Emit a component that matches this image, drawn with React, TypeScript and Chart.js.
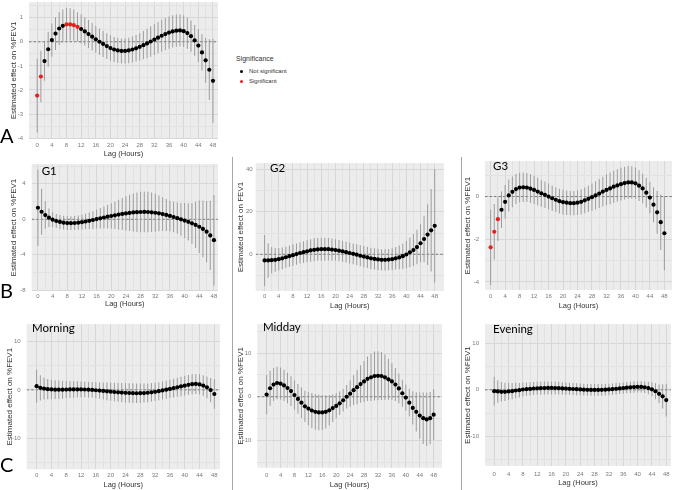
import React, { useEffect, useRef } from "react";
import { Chart, registerables } from "chart.js";

Chart.register(...registerables);
Chart.defaults.font.family = "'Liberation Sans', Arial, sans-serif";

// ---------- data ----------
const lags = [0,1,2,3,4,5,6,7,8,9,10,11,12,13,14,15,16,17,18,19,20,21,22,23,24,25,26,27,28,29,30,31,32,33,34,35,36,37,38,39,40,41,42,43,44,45,46,47,48];
const xMajorTicks = [0,4,8,12,16,20,24,28,32,36,40,44,48];
const xMinorTicks = [2,6,10,14,18,22,26,30,34,38,42,46];

// Panel A (all)
const estA = [-2.23,-1.44,-0.80,-0.31,0.07,0.34,0.55,0.66,0.72,0.72,0.69,0.62,0.53,0.43,0.32,0.21,0.10,0.00,-0.09,-0.18,-0.26,-0.32,-0.36,-0.38,-0.38,-0.36,-0.32,-0.27,-0.21,-0.14,-0.07,0.01,0.09,0.17,0.25,0.32,0.38,0.43,0.46,0.47,0.44,0.36,0.23,0.06,-0.16,-0.44,-0.77,-1.16,-1.62];
const ciA = [1.53,1.07,0.82,0.73,0.69,0.68,0.68,0.68,0.68,0.67,0.65,0.60,0.60,0.59,0.58,0.57,0.56,0.55,0.54,0.53,0.53,0.52,0.52,0.52,0.52,0.53,0.54,0.55,0.57,0.59,0.61,0.63,0.64,0.65,0.66,0.67,0.67,0.67,0.67,0.67,0.66,0.65,0.64,0.64,0.68,0.75,0.93,1.26,1.74];
const sigA = [0,1,8,9,10,11];

// G1
const estG1 = [1.30,0.85,0.48,0.18,-0.04,-0.19,-0.30,-0.38,-0.43,-0.44,-0.42,-0.38,-0.32,-0.25,-0.17,-0.08,0.02,0.11,0.20,0.29,0.37,0.45,0.53,0.60,0.66,0.72,0.77,0.80,0.82,0.83,0.82,0.79,0.74,0.67,0.59,0.49,0.38,0.26,0.13,0.00,-0.14,-0.29,-0.45,-0.63,-0.84,-1.08,-1.40,-1.82,-2.35];
const ciG1 = [4.3,2.6,1.55,1.05,0.85,0.8,0.78,0.78,0.78,0.78,0.78,0.8,0.83,0.88,0.93,1.0,1.07,1.15,1.24,1.33,1.43,1.55,1.67,1.8,1.93,2.05,2.15,2.23,2.28,2.3,2.28,2.22,2.13,2.02,1.9,1.8,1.72,1.72,1.76,1.85,1.97,2.1,2.3,2.6,2.95,3.2,3.45,3.9,5.1];

// G2
const estG2 = [-2.9,-2.9,-2.8,-2.6,-2.3,-1.9,-1.4,-0.9,-0.4,0.1,0.6,1.0,1.4,1.8,2.1,2.3,2.4,2.4,2.4,2.2,2.0,1.7,1.4,1.0,0.6,0.2,-0.2,-0.7,-1.1,-1.5,-1.9,-2.2,-2.4,-2.6,-2.6,-2.5,-2.3,-1.9,-1.5,-0.9,-0.1,0.9,2.0,3.4,5.2,7.2,9.3,11.3,13.4];
const ciG2 = [12,8.1,6.2,5.6,5.3,5.1,5.0,5.0,5.0,5.0,5.0,5.1,5.2,5.3,5.4,5.4,5.4,5.4,5.3,5.2,5.1,5.0,5.0,4.9,4.9,4.9,4.9,4.9,5.0,5.0,5.0,5.0,5.0,5.0,5.0,5.0,5.1,5.3,5.6,6.0,6.5,7.0,7.5,8.1,8.9,11.0,14.3,19.4,26.7];

// G3
const estG3 = [-2.38,-1.65,-1.06,-0.62,-0.25,0.05,0.22,0.35,0.42,0.43,0.42,0.37,0.31,0.23,0.15,0.08,0.00,-0.08,-0.15,-0.22,-0.26,-0.29,-0.31,-0.31,-0.29,-0.25,-0.18,-0.11,-0.03,0.05,0.14,0.23,0.31,0.38,0.46,0.52,0.58,0.63,0.66,0.66,0.62,0.51,0.38,0.18,-0.05,-0.38,-0.74,-1.20,-1.72];
const ciG3 = [1.77,1.3,1.02,0.86,0.79,0.75,0.72,0.7,0.69,0.69,0.68,0.67,0.66,0.65,0.63,0.62,0.61,0.6,0.59,0.58,0.58,0.57,0.57,0.57,0.58,0.59,0.6,0.62,0.64,0.66,0.68,0.7,0.72,0.74,0.75,0.76,0.77,0.77,0.77,0.76,0.74,0.72,0.7,0.7,0.73,0.82,1.0,1.3,1.74];
const sigG3 = [0,1,2];

// Morning
const estMorning = [0.75,0.42,0.26,0.15,0.08,0.04,0.03,0.04,0.06,0.08,0.09,0.10,0.09,0.07,0.03,-0.02,-0.08,-0.15,-0.22,-0.30,-0.37,-0.44,-0.50,-0.56,-0.61,-0.65,-0.68,-0.70,-0.69,-0.66,-0.60,-0.51,-0.40,-0.27,-0.12,0.04,0.20,0.37,0.54,0.70,0.87,1.03,1.17,1.22,1.12,0.88,0.52,-0.05,-0.85];
const ciMorning = [3.4,2.6,2.25,2.1,2.0,1.95,1.9,1.85,1.8,1.75,1.7,1.65,1.62,1.6,1.6,1.62,1.65,1.7,1.76,1.82,1.88,1.93,1.97,2.0,2.02,2.03,2.03,2.02,2.0,1.97,1.93,1.9,1.87,1.85,1.85,1.86,1.88,1.92,1.96,2.0,2.03,2.05,2.06,2.07,2.1,2.15,2.25,2.5,3.05];

// Midday
const estMidday = [0.5,1.95,2.8,3.15,3.0,2.6,2.0,1.3,0.4,-0.5,-1.35,-2.2,-2.7,-3.15,-3.45,-3.6,-3.6,-3.45,-3.1,-2.6,-2.1,-1.5,-0.8,0.0,0.7,1.5,2.2,2.9,3.5,4.1,4.45,4.75,4.8,4.75,4.45,4.0,3.5,2.8,1.9,0.8,-0.2,-1.35,-2.55,-3.45,-4.3,-4.9,-5.2,-4.9,-4.1];
const ciMidday = [4.5,4.0,3.8,3.75,3.7,3.6,3.5,3.4,3.4,3.4,3.5,3.6,3.8,4.0,4.1,4.1,4.0,3.8,3.5,3.2,2.9,2.7,2.6,2.7,3.0,3.4,3.9,4.3,4.7,5.1,5.4,5.6,5.6,5.5,5.2,4.7,4.2,3.8,3.4,3.1,3.0,3.2,3.8,4.5,5.3,5.9,6.1,6.0,5.8];

// Evening
const estEvening = [-0.28,-0.35,-0.42,-0.42,-0.35,-0.28,-0.14,-0.07,0.07,0.14,0.20,0.28,0.33,0.35,0.38,0.40,0.40,0.38,0.35,0.30,0.26,0.22,0.18,0.13,0.08,0.04,0.01,-0.01,-0.02,-0.02,0.00,0.04,0.09,0.15,0.22,0.30,0.38,0.46,0.53,0.59,0.63,0.63,0.55,0.38,0.10,-0.30,-0.85,-1.40,-2.20];
const ciEvening = [3.1,2.4,2.1,1.95,1.85,1.75,1.65,1.55,1.48,1.43,1.4,1.4,1.4,1.4,1.4,1.4,1.4,1.38,1.36,1.34,1.32,1.3,1.28,1.27,1.26,1.25,1.25,1.25,1.25,1.25,1.25,1.25,1.24,1.23,1.22,1.21,1.2,1.2,1.2,1.2,1.2,1.2,1.25,1.35,1.5,1.7,2.0,2.6,3.5];

const yTitlePct = "Estimated effect on %FEV1";
const yTitleAbs = "Estimated effect on FEV1";
const xTitle = "Lag (Hours)";

// ---------- styles ----------
const PANEL_BG = "#ececec";
const GRID_MAJOR = "#d7d7d7";
const GRID_MINOR = "#e2e2e2";
const BAR_COLOR = "#9c9c9c";
const TICK_COLOR = "#7a7a7a";
const TITLE_COLOR = "#333333";
const SIG_COLOR = "#ee1c1c";

type PanelCfg = {
  est: number[]; ci: number[]; sig: number[];
  yMajor: number[]; yMinor: number[];
  yMin: number; yMax: number; xMin: number; xMax: number;
  plotLeft: number; plotTop: number; plotRight: number; plotBottom: number;
  yTitleX: number; yTitle: string; yTickPad: number; xLabelOff: number; xTitleOff: number;
};

const panels: Record<string, PanelCfg> = {
  A: { est: estA, ci: ciA, sig: sigA, yMajor: [-4,-3,-2,-1,0,1], yMinor: [-3.5,-2.5,-1.5,-0.5,0.5,1.5],
    yMin: -4.02, yMax: 1.645, xMin: -2.24, xMax: 49.35,
    plotLeft: 29, plotTop: 0, plotRight: 220, plotBottom: 138.7,
    yTitleX: 13.3, yTitle: yTitlePct, yTickPad: 6, xLabelOff: 7, xTitleOff: 14.6 },
  G1: { est: estG1, ci: ciG1, sig: [], yMajor: [-8,-4,0,4], yMinor: [-6,-2,2,6],
    yMin: -8.08, yMax: 6.22, xMin: -1.7, xMax: 49.08,
    plotLeft: 31.7, plotTop: 162, plotRight: 220, plotBottom: 291,
    yTitleX: 13.3, yTitle: yTitlePct, yTickPad: 6, xLabelOff: 5.7, xTitleOff: 12.3 },
  G2: { est: estG2, ci: ciG2, sig: [], yMajor: [0,20,40], yMinor: [-10,10,30],
    yMin: -17.3, yMax: 42.96, xMin: -2.51, xMax: 50.6,
    plotLeft: 255.7, plotTop: 161, plotRight: 446, plotBottom: 291,
    yTitleX: 240.7, yTitle: yTitleAbs, yTickPad: 3, xLabelOff: 5, xTitleOff: 14.3 },
  G3: { est: estG3, ci: ciG3, sig: sigG3, yMajor: [-4,-2,0], yMinor: [-3,-1,1],
    yMin: -4.38, yMax: 1.66, xMin: -1.56, xMax: 50.08,
    plotLeft: 485, plotTop: 159, plotRight: 673.3, plotBottom: 290,
    yTitleX: 467.3, yTitle: yTitlePct, yTickPad: 6, xLabelOff: 6, xTitleOff: 15.3 },
  Morning: { est: estMorning, ci: ciMorning, sig: [], yMajor: [-10,0,10], yMinor: [-15,-5,5,15],
    yMin: -16.38, yMax: 13.56, xMin: -2.68, xMax: 49.5,
    plotLeft: 26.7, plotTop: 322, plotRight: 221.7, plotBottom: 469.3,
    yTitleX: 10, yTitle: yTitlePct, yTickPad: 6, xLabelOff: 6.4, xTitleOff: 15 },
  Midday: { est: estMidday, ci: ciMidday, sig: [], yMajor: [-10,0,10], yMinor: [-15,-5,5,15],
    yMin: -16.25, yMax: 16.64, xMin: -2.68, xMax: 50.37,
    plotLeft: 257.3, plotTop: 322, plotRight: 443.3, plotBottom: 467.7,
    yTitleX: 240.7, yTitle: yTitlePct, yTickPad: 6, xLabelOff: 8, xTitleOff: 16.6 },
  Evening: { est: estEvening, ci: ciEvening, sig: [], yMajor: [-10,0,10], yMinor: [-15,-5,5,15],
    yMin: -16.34, yMax: 14.1, xMin: -2.57, xMax: 49.3,
    plotLeft: 485, plotTop: 322, plotRight: 673, plotBottom: 466,
    yTitleX: 467.3, yTitle: yTitlePct, yTickPad: 6, xLabelOff: 8.7, xTitleOff: 16.7 },
};

const bgPlugin = {
  id: "panelBg",
  beforeDraw(chart: any) {
    const { ctx, chartArea: a } = chart;
    ctx.save();
    ctx.fillStyle = PANEL_BG;
    ctx.fillRect(a.left, a.top, a.right - a.left, a.bottom - a.top);
    ctx.restore();
  },
};

function Panel({ cfg }: { cfg: PanelCfg }) {
  const ref = useRef<HTMLCanvasElement>(null);
  const left = Math.round(cfg.yTitleX - 4.8);
  const top = Math.floor(cfg.plotTop);
  const width = Math.ceil(cfg.plotRight) - left;
  const height = Math.round(cfg.plotBottom + cfg.xTitleOff + 4.5) - top;
  const yAxisW = cfg.plotLeft - left;
  const xAxisH = top + height - cfg.plotBottom;

  useEffect(() => {
    if (!ref.current) return;
    const pts = lags.map((l, i) => ({ x: l, y: cfg.est[i] }));
    const bars = lags.map((l, i) => ({ x: l, y: [cfg.est[i] - cfg.ci[i], cfg.est[i] + cfg.ci[i]] }));
    const colors = lags.map((l) => (cfg.sig.includes(l) ? SIG_COLOR : "#000000"));
    const xTicks = [...xMajorTicks, ...xMinorTicks].sort((a, b) => a - b);
    const yTicks = [...cfg.yMajor, ...cfg.yMinor].filter((v) => v >= cfg.yMin && v <= cfg.yMax).sort((a, b) => a - b);
    const chart = new Chart(ref.current, {
      type: "bar",
      data: {
        datasets: [
          { type: "line", data: pts as any, showLine: false, pointRadius: 2.1, pointHoverRadius: 2.1,
            pointBackgroundColor: colors, pointBorderColor: colors, pointBorderWidth: 0, order: 0 } as any,
          { type: "bar", data: bars as any, backgroundColor: BAR_COLOR, borderWidth: 0, barThickness: 1,
            inflateAmount: 0, order: 1 } as any,
          { type: "line", data: [{ x: cfg.xMin, y: 0 }, { x: cfg.xMax, y: 0 }] as any, borderColor: "#6f6f6f",
            borderWidth: 0.9, borderDash: [2.5, 2], pointRadius: 0, order: 2 } as any,
        ],
      },
      options: {
        animation: false, responsive: false, events: [],
        layout: { padding: 0 },
        plugins: { legend: { display: false }, tooltip: { enabled: false } },
        scales: {
          x: {
            type: "linear", min: cfg.xMin, max: cfg.xMax, offset: false,
            grid: { offset: false, drawTicks: false, lineWidth: 1,
              color: (c: any) => (c.tick && xMajorTicks.includes(c.tick.value) ? GRID_MAJOR : GRID_MINOR) },
            border: { display: false },
            afterBuildTicks: (s: any) => { s.ticks = xTicks.map((v) => ({ value: v })); },
            ticks: { autoSkip: false, maxRotation: 0, minRotation: 0, padding: cfg.xLabelOff - 3.6,
              font: { size: 6 }, color: TICK_COLOR,
              callback: (v: any) => (xMajorTicks.includes(Number(v)) ? String(v) : "") },
            title: { display: true, text: xTitle, color: TITLE_COLOR, font: { size: 7.5 }, padding: 0 },
            afterFit: (s: any) => { s.height = xAxisH; s.paddingLeft = 0; s.paddingRight = 0; },
          },
          y: {
            type: "linear", min: cfg.yMin, max: cfg.yMax,
            grid: { drawTicks: false, lineWidth: 1,
              color: (c: any) => (c.tick && cfg.yMajor.includes(c.tick.value) ? GRID_MAJOR : GRID_MINOR) },
            border: { display: false },
            afterBuildTicks: (s: any) => { s.ticks = yTicks.map((v) => ({ value: v })); },
            ticks: { autoSkip: false, padding: cfg.yTickPad, font: { size: 6 }, color: TICK_COLOR,
              callback: (v: any) => (cfg.yMajor.includes(Number(v)) ? String(v) : "") },
            title: { display: true, text: cfg.yTitle, color: TITLE_COLOR, font: { size: 8 }, padding: 0 },
            afterFit: (s: any) => { s.width = yAxisW; s.paddingTop = 0; s.paddingBottom = 0; },
          },
        },
      } as any,
      plugins: [bgPlugin],
    });
    return () => chart.destroy();
  }, [cfg]);

  return (
    <canvas ref={ref} width={width} height={height}
      style={{ position: "absolute", left, top, width, height }} />
  );
}

const labelFont = "Lato, 'Open Sans', sans-serif";

function Label({ text, x, y, size }: { text: string; x: number; y: number; size: number }) {
  return (
    <div style={{ position: "absolute", left: x, top: y, fontFamily: labelFont, fontSize: size,
      lineHeight: 1, color: "#000", whiteSpace: "nowrap" }}>{text}</div>
  );
}

export default function App() {
  const sep: React.CSSProperties = { position: "absolute", width: 1, background: "#a8a8a8" };
  return (
    <div style={{ position: "absolute", left: 0, top: 0, width: 678, height: 490, background: "#fff", overflow: "hidden" }}>
      {Object.keys(panels).map((k) => <Panel key={k} cfg={panels[k]} />)}

      <div style={{ ...sep, left: 232, top: 157, height: 333 }} />
      <div style={{ ...sep, left: 461, top: 157, height: 333 }} />

      <Label text="A" x={0} y={124.7} size={20} />
      <Label text="B" x={0} y={279.7} size={20} />
      <Label text="C" x={0} y={453.7} size={20} />

      <Label text="G1" x={41.7} y={164.8} size={11.5} />
      <Label text="G2" x={270} y={162} size={11.5} />
      <Label text="G3" x={493} y={160} size={11.5} />
      <Label text="Morning" x={32} y={322} size={11.5} />
      <Label text="Midday" x={263} y={321} size={11.5} />
      <Label text="Evening" x={493} y={323} size={11.5} />

      <div style={{ position: "absolute", left: 236, top: 55, fontFamily: "'Liberation Sans', Arial, sans-serif",
        fontSize: 7, lineHeight: "8px", color: "#333" }}>Significance</div>
      {[{ t: "Not significant", c: "#000", y: 71 }, { t: "Significant", c: SIG_COLOR, y: 81 }].map((it) => (
        <React.Fragment key={it.t}>
          <div style={{ position: "absolute", left: 239.5, top: it.y - 1.5, width: 3, height: 3, borderRadius: "50%", background: it.c }} />
          <div style={{ position: "absolute", left: 249, top: it.y - 3.5, fontFamily: "'Liberation Sans', Arial, sans-serif",
            fontSize: 6, lineHeight: "7px", color: "#333", whiteSpace: "nowrap" }}>{it.t}</div>
        </React.Fragment>
      ))}
    </div>
  );
}
